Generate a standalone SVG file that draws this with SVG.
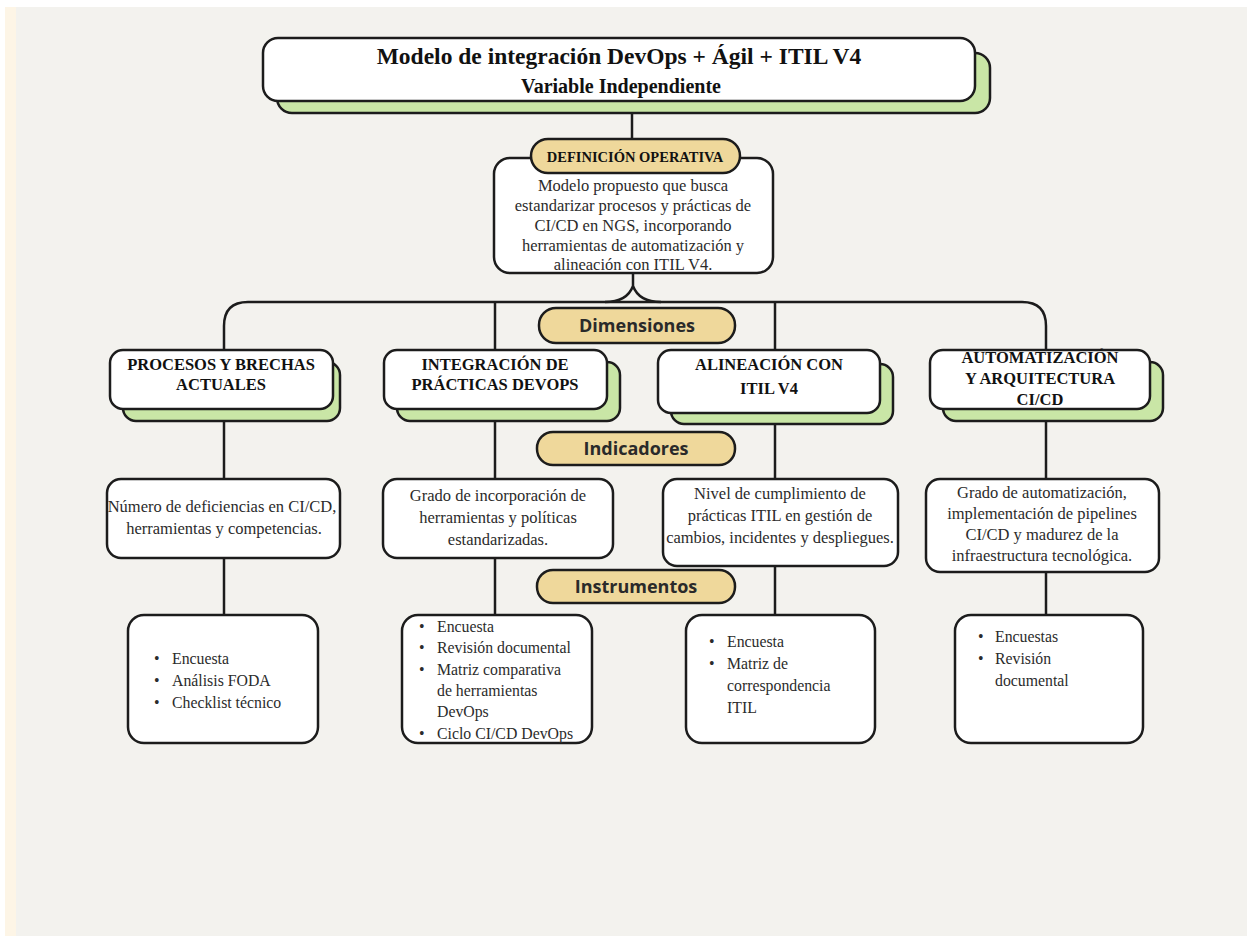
<svg xmlns="http://www.w3.org/2000/svg" width="1251" height="939" viewBox="0 0 1251 939">
  <style>
    .card { fill: #ffffff; stroke: #1c1c1c; stroke-width: 2.5; }
    .shadow { fill: #c9e6a6; stroke: #1c1c1c; stroke-width: 2.5; }
    .pill { fill: #efd89b; stroke: #1c1c1c; stroke-width: 2.5; }
    .wire { fill: none; stroke: #1c1c1c; stroke-width: 2.5; }
    .head { font-family: "Liberation Serif", "Times New Roman", serif; font-weight: bold; fill: #111; text-anchor: middle; }
    .dim { font-size: 16.5px; }
    .body { font-family: "Liberation Serif", "Times New Roman", serif; font-size: 16.5px; fill: #2b2b2b; text-anchor: middle; }
    .list { font-family: "Liberation Serif", "Times New Roman", serif; font-size: 15.8px; fill: #2b2b2b; }
    .tag { font-family: "Open Sans", "Noto Sans", sans-serif; font-weight: bold; font-size: 18px; fill: #2a2a2a; text-anchor: middle; }
  </style>

  <!-- paper background -->
  <rect x="0" y="0" width="1251" height="939" fill="#ffffff"/>
  <rect x="5" y="7" width="11" height="929" fill="#fdf5e6"/>
  <rect x="16" y="7" width="1231" height="929" fill="#f3f2ee"/>

  <!-- connectors -->
  <g id="connectors">
    <line class="wire" x1="632" y1="113" x2="632" y2="140"/>
    <path class="wire" d="M633 273 L633 286 Q627 302 605 302 M633 286 Q639 302 661 302"/>
    <path class="wire" d="M224 350 L224 326 Q224 302 248 302 L1022 302 Q1046 302 1046 326 L1046 350"/>
    <line class="wire" x1="495" y1="302" x2="495" y2="350"/>
    <line class="wire" x1="775" y1="302" x2="775" y2="350"/>
    <line class="wire" x1="224" y1="409" x2="224" y2="479"/>
    <line class="wire" x1="495" y1="409" x2="495" y2="479"/>
    <line class="wire" x1="775" y1="413" x2="775" y2="479"/>
    <line class="wire" x1="1046" y1="409" x2="1046" y2="479"/>
    <line class="wire" x1="224" y1="558" x2="224" y2="615"/>
    <line class="wire" x1="495" y1="558" x2="495" y2="615"/>
    <line class="wire" x1="775" y1="566" x2="775" y2="615"/>
    <line class="wire" x1="1046" y1="572" x2="1046" y2="615"/>
  </g>

  <!-- variable -->
  <g id="variable">
    <rect class="shadow" x="277" y="53" width="713" height="60" rx="15"/>
    <rect class="card" x="263" y="38" width="712" height="63" rx="15"/>
    <text class="head" x="619" y="64" font-size="23.5">Modelo de integración DevOps + Ágil + ITIL V4</text>
    <text class="head" x="621" y="93" font-size="20">Variable Independiente</text>
  </g>

  <!-- operational definition -->
  <g id="definicion">
    <rect class="card" x="494" y="158" width="279" height="115" rx="16"/>
    <rect class="pill" x="531" y="139" width="209" height="34" rx="17"/>
    <text class="head" x="635" y="162" font-size="14.5">DEFINICIÓN OPERATIVA</text>
    <text class="body" x="633" y="191" font-size="17.5">Modelo propuesto que busca</text>
    <text class="body" x="633" y="211" font-size="17.5">estandarizar procesos y prácticas de</text>
    <text class="body" x="633" y="231" font-size="17.5">CI/CD en NGS, incorporando</text>
    <text class="body" x="633" y="251" font-size="17.5">herramientas de automatización y</text>
    <text class="body" x="633" y="270" font-size="17.5">alineación con ITIL V4.</text>
  </g>

  <!-- section labels -->
  <g id="label-dimensiones">
    <rect class="pill" x="539" y="308" width="196" height="35" rx="17"/>
    <text class="tag" x="637" y="332">Dimensiones</text>
  </g>
  <g id="label-indicadores">
    <rect class="pill" x="537" y="432" width="198" height="33" rx="16"/>
    <text class="tag" x="636" y="455">Indicadores</text>
  </g>
  <g id="label-instrumentos">
    <rect class="pill" x="537" y="570" width="198" height="33" rx="16"/>
    <text class="tag" x="636" y="593">Instrumentos</text>
  </g>

  <!-- dimensions -->
  <g id="dim-procesos">
    <rect class="shadow" x="123" y="362" width="217" height="59" rx="13"/>
    <rect class="card" x="110" y="350" width="223" height="59" rx="13"/>
    <text class="head dim" x="221" y="370">PROCESOS Y BRECHAS</text>
    <text class="head dim" x="221" y="390">ACTUALES</text>
  </g>
  <g id="dim-devops">
    <rect class="shadow" x="397" y="362" width="223" height="59" rx="13"/>
    <rect class="card" x="384" y="350" width="223" height="59" rx="13"/>
    <text class="head dim" x="495" y="370">INTEGRACIÓN DE</text>
    <text class="head dim" x="495" y="390">PRÁCTICAS DEVOPS</text>
  </g>
  <g id="dim-itil">
    <rect class="shadow" x="671" y="364" width="222" height="60" rx="13"/>
    <rect class="card" x="658" y="350" width="222" height="63" rx="13"/>
    <text class="head dim" x="769" y="370">ALINEACIÓN CON</text>
    <text class="head dim" x="769" y="394">ITIL V4</text>
  </g>
  <g id="dim-automatizacion">
    <rect class="shadow" x="943" y="362" width="220" height="59" rx="13"/>
    <rect class="card" x="930" y="350" width="220" height="59" rx="13"/>
    <text class="head dim" x="1040" y="363">AUTOMATIZACIÓN</text>
    <text class="head dim" x="1040" y="384">Y ARQUITECTURA</text>
    <text class="head dim" x="1040" y="405">CI/CD</text>
  </g>

  <!-- indicators -->
  <g id="ind-procesos">
    <rect class="card" x="107" y="479" width="233" height="79" rx="14"/>
    <text class="body" x="222" y="512">Número de deficiencias en CI/CD,</text>
    <text class="body" x="224" y="534">herramientas y competencias.</text>
  </g>
  <g id="ind-devops">
    <rect class="card" x="383" y="479" width="230" height="79" rx="14"/>
    <text class="body" x="498" y="501">Grado de incorporación de</text>
    <text class="body" x="498" y="523">herramientas y políticas</text>
    <text class="body" x="498" y="545">estandarizadas.</text>
  </g>
  <g id="ind-itil">
    <rect class="card" x="663" y="479" width="235" height="87" rx="14"/>
    <text class="body" x="780" y="499" font-size="16.8">Nivel de cumplimiento de</text>
    <text class="body" x="780" y="521" font-size="16.8">prácticas ITIL en gestión de</text>
    <text class="body" x="780" y="543" font-size="16.8">cambios, incidentes y despliegues.</text>
  </g>
  <g id="ind-automatizacion">
    <rect class="card" x="926" y="479" width="233" height="93" rx="14"/>
    <text class="body" x="1042" y="498" font-size="15.8">Grado de automatización,</text>
    <text class="body" x="1042" y="519" font-size="15.8">implementación de pipelines</text>
    <text class="body" x="1042" y="540" font-size="15.8">CI/CD y madurez de la</text>
    <text class="body" x="1042" y="561" font-size="15.8">infraestructura tecnológica.</text>
  </g>

  <!-- instruments -->
  <g id="ins-procesos">
    <rect class="card" x="128" y="615" width="190" height="128" rx="16"/>
    <text class="list" x="154" y="664">•</text><text class="list" x="172" y="664">Encuesta</text>
    <text class="list" x="154" y="686">•</text><text class="list" x="172" y="686">Análisis FODA</text>
    <text class="list" x="154" y="708">•</text><text class="list" x="172" y="708">Checklist técnico</text>
  </g>
  <g id="ins-devops">
    <rect class="card" x="402" y="615" width="190" height="128" rx="16"/>
    <text class="list" x="419" y="632">•</text><text class="list" x="437" y="632">Encuesta</text>
    <text class="list" x="419" y="653">•</text><text class="list" x="437" y="653">Revisión documental</text>
    <text class="list" x="419" y="675">•</text><text class="list" x="437" y="675">Matriz comparativa</text>
    <text class="list" x="437" y="696">de herramientas</text>
    <text class="list" x="437" y="717">DevOps</text>
    <text class="list" x="419" y="739">•</text><text class="list" x="437" y="739">Ciclo CI/CD DevOps</text>
  </g>
  <g id="ins-itil">
    <rect class="card" x="686" y="615" width="189" height="128" rx="16"/>
    <text class="list" x="709" y="647">•</text><text class="list" x="727" y="647">Encuesta</text>
    <text class="list" x="709" y="669">•</text><text class="list" x="727" y="669">Matriz de</text>
    <text class="list" x="727" y="691">correspondencia</text>
    <text class="list" x="727" y="713">ITIL</text>
  </g>
  <g id="ins-automatizacion">
    <rect class="card" x="955" y="615" width="188" height="128" rx="16"/>
    <text class="list" x="978" y="642">•</text><text class="list" x="995" y="642">Encuestas</text>
    <text class="list" x="978" y="664">•</text><text class="list" x="995" y="664">Revisión</text>
    <text class="list" x="995" y="686">documental</text>
  </g>
</svg>
